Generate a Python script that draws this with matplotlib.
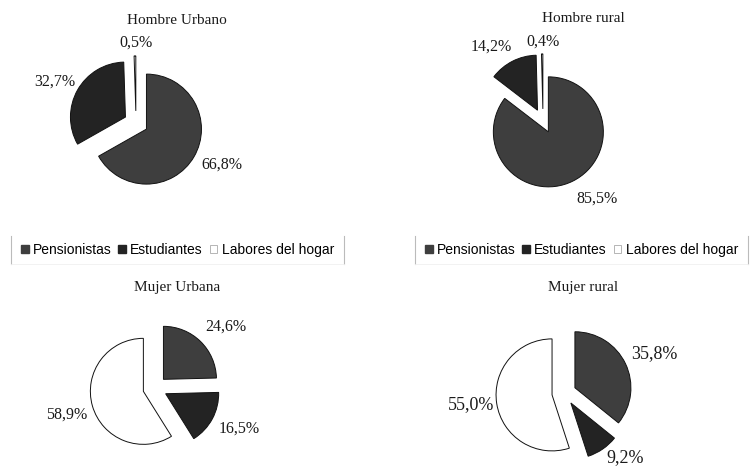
import matplotlib
matplotlib.use("Agg")
import matplotlib.pyplot as plt
from matplotlib.patches import Patch
from matplotlib.lines import Line2D
import numpy as np

# datos (porcentajes)
categorias = ["Pensionistas", "Estudiantes", "Labores del hogar"]
titulos = ["Hombre Urbano", "Hombre rural", "Mujer Urbana", "Mujer rural"]
hombre_urbano = [66.8, 32.7, 0.5]
hombre_rural = [85.5, 14.2, 0.4]
mujer_urbana = [24.6, 16.5, 58.9]
mujer_rural = [35.8, 9.2, 55.0]

colores = ["#3e3e3e", "#232323", "#ffffff"]
W, H = 751, 466
PX = 55.0  # pixeles por unidad de datos

plt.rcParams["font.family"] = ["Liberation Serif", "DejaVu Serif"]

fig = plt.figure(figsize=(W / 100, H / 100), dpi=100)


def dibujar_tarta(valores, cx, cy, r_px, titulo, tx, ty, fsize, dist, giro):
    lado = 220
    ax = fig.add_axes([(cx - lado / 2) / W, (H - cy - lado / 2) / H, lado / W, lado / H])
    cunas, _ = ax.pie(valores, colors=colores, startangle=90, counterclock=False,
                      radius=r_px / PX, explode=[0.22] * len(valores),
                      wedgeprops=dict(edgecolor="#111111", linewidth=0.7))
    ax.set_xlim(-2, 2)
    ax.set_ylim(-2, 2)
    ax.axis("off")
    for w, v, d, g in zip(cunas, valores, dist, giro):
        ang = np.deg2rad((w.theta1 + w.theta2) / 2 + g)
        etiqueta = f"{v:.1f}%".replace(".", ",")
        ax.text(d * r_px / PX * np.cos(ang), d * r_px / PX * np.sin(ang), etiqueta,
                ha="center", va="center", fontsize=fsize, color="#1a1a1a")
    fig.text(tx / W, 1 - ty / H, titulo, ha="center", va="center", fontsize=11, color="#1a1a1a")


dibujar_tarta(hombre_urbano, 136, 123, 55, titulos[0], 177, 20, 11.5,
              [1.74, 1.65, 1.47], [4.2, 2.4, -0.9])
dibujar_tarta(hombre_rural, 543, 121, 55, titulos[1], 583, 18, 11.5,
              [1.72, 1.64, 1.44], [8.6, 7.9, -0.7])
dibujar_tarta(mujer_urbana, 155, 388, 53, titulos[2], 177, 288, 11.5,
              [1.77, 1.76, 1.75], [-5.0, 2.3, 0.9])
dibujar_tarta(mujer_rural, 564, 393, 56, titulos[3], 583, 288, 13,
              [1.76, 1.58, 1.67], [-1.7, 9.0, -1.6])

# leyendas
manejadores = [Patch(facecolor=colores[0], edgecolor=colores[0]),
               Patch(facecolor=colores[1], edgecolor=colores[1]),
               Patch(facecolor=colores[2], edgecolor="#aaaaaa", linewidth=0.6)]
leyendas = []
for lx in [177.5, 581.5]:
    ley = fig.legend(manejadores, categorias, loc="center", bbox_to_anchor=(lx / W, 1 - 250 / H),
                     ncol=3, handlelength=0.55, handleheight=0.55,
                     handletextpad=0.3, columnspacing=0.5, borderpad=0.5, borderaxespad=0,
                     frameon=False,
                     prop={"family": ["Liberation Sans", "DejaVu Sans"], "size": 10})
    leyendas.append(ley)

# solo los bordes verticales del marco de la leyenda
fig.canvas.draw()
for ley in leyendas:
    bb = ley.get_window_extent().transformed(fig.transFigure.inverted())
    for x in [bb.x0 - 0.004, bb.x1 + 0.004]:
        fig.add_artist(Line2D([x, x], [bb.y0, bb.y1], color="#bbbbbb", linewidth=0.8,
                              transform=fig.transFigure))
    fig.add_artist(Line2D([bb.x0 - 0.004, bb.x1 + 0.004], [bb.y0, bb.y0], color="#f0f0f0",
                          linewidth=0.6, transform=fig.transFigure))

fig.savefig("out.png", dpi=100)
